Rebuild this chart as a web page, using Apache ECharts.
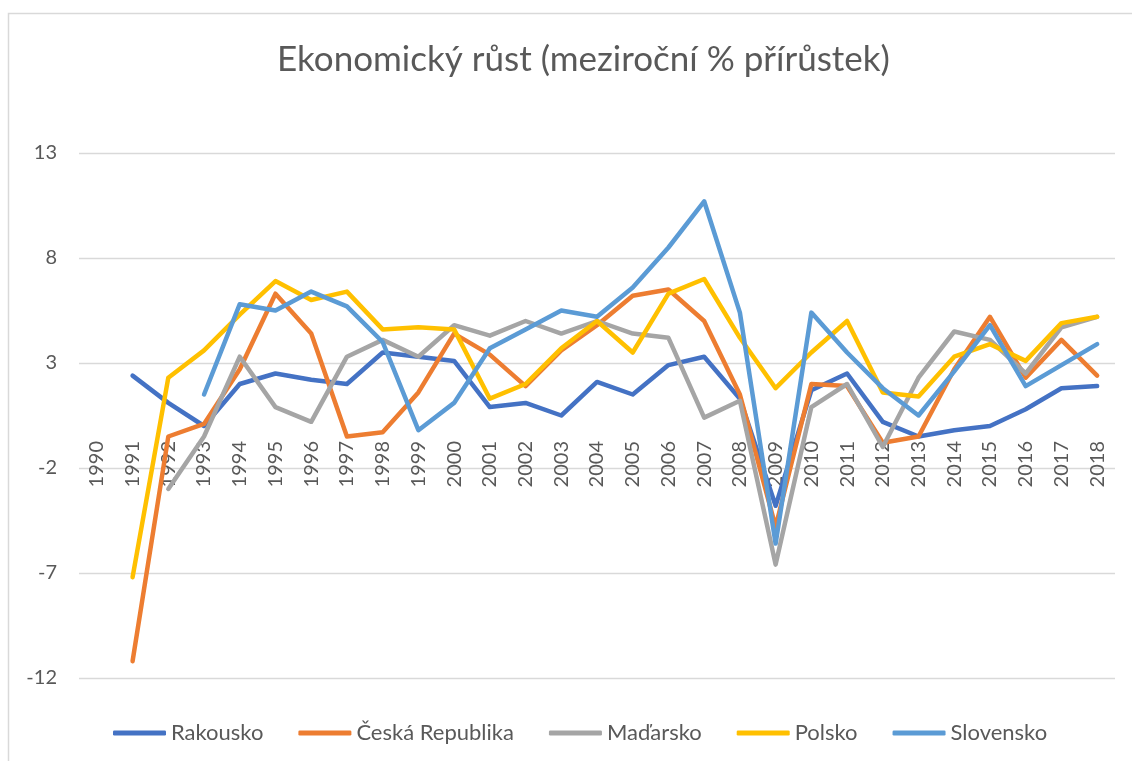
<!DOCTYPE html>
<html>
<head>
<meta charset="utf-8">
<script src="https://cdn.jsdelivr.net/npm/echarts@6/dist/echarts.min.js"></script>
<style>
  html, body { margin: 0; padding: 0; background: #fff; }
  #chart { width: 1132px; height: 761px; }
</style>
</head>
<body>
<div id="chart"></div>
<script>
const years = ['1990','1991','1992','1993','1994','1995','1996','1997','1998','1999','2000','2001','2002','2003','2004','2005','2006','2007','2008','2009','2010','2011','2012','2013','2014','2015','2016','2017','2018'];

const rakousko   = [null, 2.4, 1.1, 0.0, 2.0, 2.5, 2.2, 2.0, 3.5, 3.3, 3.1, 0.9, 1.1, 0.5, 2.1, 1.5, 2.9, 3.3, 1.3, -3.8, 1.7, 2.5, 0.2, -0.5, -0.2, 0.0, 0.8, 1.8, 1.9];
const ceskaRep   = [null, -11.2, -0.5, 0.1, 2.7, 6.3, 4.4, -0.5, -0.3, 1.6, 4.4, 3.4, 1.9, 3.6, 4.8, 6.2, 6.5, 5.0, 1.5, -4.8, 2.0, 1.9, -0.8, -0.5, 2.7, 5.2, 2.3, 4.1, 2.4];
const madarsko   = [null, null, -3.0, -0.5, 3.3, 0.9, 0.2, 3.3, 4.1, 3.3, 4.8, 4.3, 5.0, 4.4, 5.0, 4.4, 4.2, 0.4, 1.2, -6.6, 0.9, 2.0, -1.0, 2.3, 4.5, 4.1, 2.5, 4.7, 5.2];
const polsko     = [null, -7.2, 2.3, 3.6, 5.3, 6.9, 6.0, 6.4, 4.6, 4.7, 4.6, 1.3, 2.0, 3.7, 5.0, 3.5, 6.3, 7.0, 4.2, 1.8, 3.5, 5.0, 1.6, 1.4, 3.3, 3.9, 3.1, 4.9, 5.2];
const slovensko  = [null, null, null, 1.5, 5.8, 5.5, 6.4, 5.7, 4.0, -0.2, 1.1, 3.7, 4.6, 5.5, 5.2, 6.6, 8.5, 10.7, 5.4, -5.6, 5.4, 3.5, 1.8, 0.5, 2.6, 4.8, 1.9, 2.9, 3.9];

const seriesNames = ['Rakousko', 'Česká Republika', 'Maďarsko', 'Polsko', 'Slovensko'];
const seriesData = [rakousko, ceskaRep, madarsko, polsko, slovensko];
const colors = ['#4472C4', '#ED7D31', '#A5A5A5', '#FFC000', '#5B9BD5'];
const yTicks = [-12, -7, -2, 3, 8, 13];
const titleText = 'Ekonomický růst (meziroční % přírůstek)';

const FONT = 'Lato, "Open Sans", sans-serif';
const chart = echarts.init(document.getElementById('chart'), null, { renderer: 'canvas' });

chart.setOption({
  animation: false,
  backgroundColor: '#ffffff',
  color: colors,
  graphic: [{
    type: 'rect',
    silent: true,
    shape: { x: 8.5, y: 13.5, width: 1200, height: 800 },
    style: { fill: 'none', stroke: '#d9d9d9', lineWidth: 1.5 }
  }],
  title: {
    text: titleText,
    left: 272,
    top: 37,
    textStyle: { fontFamily: FONT, fontSize: 35, fontWeight: 'normal', color: '#595959' }
  },
  grid: { left: 79, right: 17, top: 153, bottom: 83, containLabel: false },
  xAxis: {
    type: 'category',
    data: years,
    boundaryGap: true,
    offset: -240,
    axisLine: { show: false },
    axisTick: { show: false },
    axisLabel: {
      rotate: 90,
      interval: 0,
      margin: 3,
      fontFamily: FONT,
      fontSize: 20,
      color: '#595959'
    },
    splitLine: { show: false }
  },
  yAxis: {
    type: 'value',
    min: -12,
    max: 13,
    axisLine: { show: false },
    axisTick: { show: false, customValues: yTicks },
    axisLabel: {
      customValues: yTicks,
      margin: 22,
      fontFamily: FONT,
      fontSize: 20,
      color: '#595959'
    },
    splitLine: { show: true, lineStyle: { color: '#d9d9d9', width: 1.3 } }
  },
  legend: {
    data: seriesNames,
    left: 108,
    top: 717,
    icon: 'roundRect',
    itemWidth: 53,
    itemHeight: 5,
    itemGap: 35,
    textStyle: { fontFamily: FONT, fontSize: 22, color: '#595959' }
  },
  series: seriesNames.map((name, i) => ({
    name: name,
    type: 'line',
    data: seriesData[i],
    symbol: 'none',
    connectNulls: false,
    lineStyle: { width: 4.5, color: colors[i], cap: 'round', join: 'round' },
    itemStyle: { color: colors[i] }
  }))
});
</script>
</body>
</html>
